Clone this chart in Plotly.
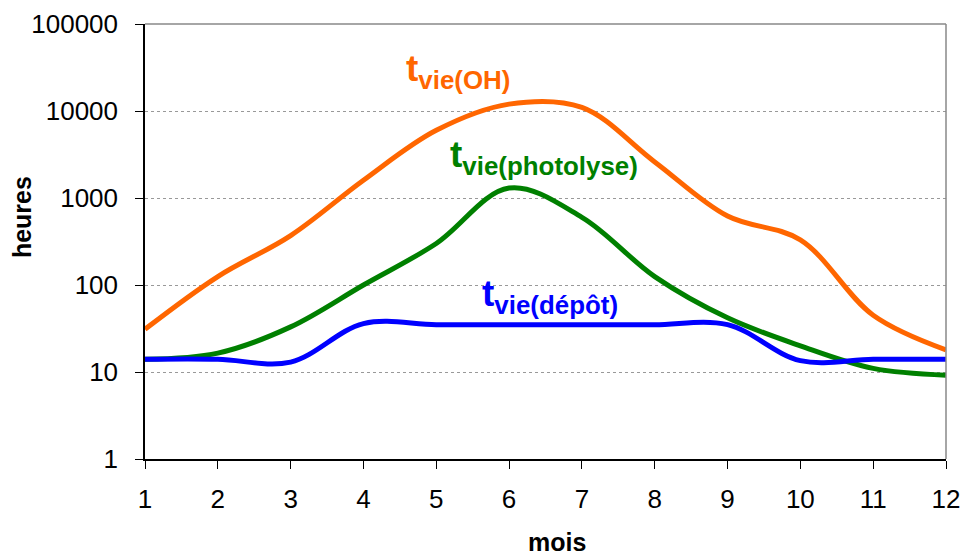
import plotly.graph_objects as go

mois = [1, 2, 3, 4, 5, 6, 7, 8, 9, 10, 11, 12]
t_vie_oh = [31, 125, 370, 1600, 6000, 12000, 11000, 2600, 620, 330, 45, 18]
t_vie_photolyse = [14, 16.5, 33, 100, 300, 1300, 600, 125, 42, 20, 11, 9.2]
t_vie_depot = [14, 14, 13, 36, 35, 35, 35, 35, 35, 13.5, 14, 14]
y_tick_vals = [1, 10, 100, 1000, 10000, 100000]
y_tick_text = ["1", "10", "100", "1000", "10000", "100000"]

FONT = "Liberation Sans, Arial, sans-serif"
ORANGE = "#FF6600"
GREEN = "#008000"
BLUE = "#0000FF"

fig = go.Figure()
for vals, col in [(t_vie_oh, ORANGE), (t_vie_photolyse, GREEN), (t_vie_depot, BLUE)]:
    fig.add_trace(go.Scatter(x=mois, y=vals, mode="lines",
                             line=dict(color=col, width=5, shape="spline", smoothing=1.0),
                             showlegend=False, hoverinfo="skip"))

fig.add_annotation(x=4.55, y=4.46, xref="x", yref="y", xanchor="left", yanchor="middle",
                   text="<b>t<sub>vie(OH)</sub></b>", showarrow=False,
                   font=dict(family=FONT, size=37, color=ORANGE))
fig.add_annotation(x=5.16, y=3.47, xref="x", yref="y", xanchor="left", yanchor="middle",
                   text="<b>t<sub>vie(photolyse)</sub></b>", showarrow=False,
                   font=dict(family=FONT, size=37, color=GREEN))
fig.add_annotation(x=5.60, y=1.87, xref="x", yref="y", xanchor="left", yanchor="middle",
                   text="<b>t<sub>vie(dépôt)</sub></b>", showarrow=False,
                   font=dict(family=FONT, size=37, color=BLUE))

# axis titles
fig.add_annotation(x=-0.1536, y=0.556, xref="paper", yref="paper", xanchor="center", yanchor="middle",
                   text="<b>heures</b>", textangle=-90, showarrow=False,
                   font=dict(family=FONT, size=25, color="black"))
fig.add_annotation(x=0.514, y=-0.19, xref="paper", yref="paper", xanchor="center", yanchor="middle",
                   text="<b>mois</b>", showarrow=False,
                   font=dict(family=FONT, size=25, color="black"))

# top and right border of plot area
fig.add_shape(type="line", xref="paper", yref="paper", x0=0, x1=1, y0=1, y1=1,
              line=dict(color="#888888", width=1.5))
fig.add_shape(type="line", xref="paper", yref="paper", x0=1, x1=1, y0=0, y1=1,
              line=dict(color="#888888", width=1.5))

fig.update_layout(
    width=962, height=553,
    margin=dict(l=145, r=16, t=24, b=94),
    paper_bgcolor="white", plot_bgcolor="white",
    font=dict(family=FONT, size=26, color="black"),
    xaxis=dict(range=[1, 12], tickmode="array", tickvals=mois, automargin=False,
               showline=True, linecolor="black", linewidth=1.5,
               ticks="outside", ticklen=8, tickcolor="black", tickwidth=1,
               showgrid=False, zeroline=False, ticklabelstandoff=8,
               tickfont=dict(family=FONT, size=26)),
    yaxis=dict(type="log", range=[0, 5], tickmode="array", tickvals=y_tick_vals, ticktext=y_tick_text,
               automargin=False,
               showline=True, linecolor="black", linewidth=1.5,
               ticks="outside", ticklen=8, tickcolor="black", tickwidth=1,
               showgrid=True, gridcolor="#999999", griddash="dot", gridwidth=1,
               zeroline=False, ticklabelstandoff=12,
               tickfont=dict(family=FONT, size=26)),
)

fig.write_html("out.html", config={"displayModeBar": False},
               post_script="document.body.style.margin='0';document.body.style.overflow='hidden';")
